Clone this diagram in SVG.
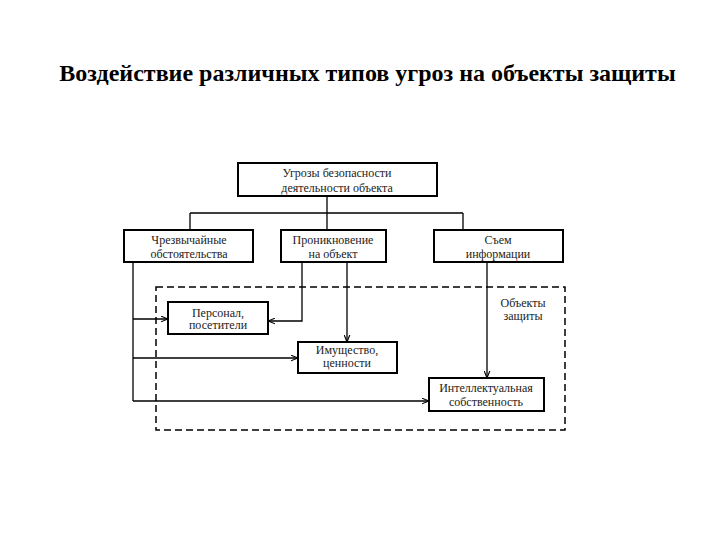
<svg xmlns="http://www.w3.org/2000/svg" width="720" height="540" viewBox="0 0 720 540">
<defs>
<marker id="ah" viewBox="0 0 10 10" refX="10" refY="5" markerWidth="7" markerHeight="7" orient="auto" markerUnits="userSpaceOnUse">
<path d="M0,1 L10,5 L0,9" fill="none" stroke="#000" stroke-width="1.6"/>
</marker>
<style>
.box{fill:#fff;stroke:#000;stroke-width:2}
.t{font-family:'Liberation Serif','DejaVu Serif',serif;font-size:12px;fill:#222;text-anchor:middle}
.title{font-family:'Liberation Serif','DejaVu Serif',serif;font-size:24px;font-weight:bold;fill:#000;text-anchor:middle}
.c{fill:none;stroke:#000;stroke-width:1.3}
.ca{fill:none;stroke:#000;stroke-width:1.3;marker-end:url(#ah)}
</style>
</defs>
<rect width="720" height="540" fill="#fff"/>
<text class="title" x="367.5" y="81">Воздействие различных типов угроз на объекты защиты</text>

<g id="region">
<rect x="156" y="287" width="409" height="143" fill="none" stroke="#000" stroke-width="1.5" stroke-dasharray="7,4"/>
<text class="t" x="523" y="307">Объекты</text>
<text class="t" x="523" y="320">защиты</text>
</g>

<g id="connectors">
<path class="c" d="M327,196 V230 M190,213 H463 M190,213 V230 M463,213 V230"/>
<path class="c" d="M133,262 V401"/>
<path class="ca" d="M133,319 H168"/>
<path class="ca" d="M133,358 H298"/>
<path class="ca" d="M133,401 H429"/>
<path class="ca" d="M302,262 V321 H268"/>
<path class="ca" d="M347,262 V342"/>
<path class="ca" d="M487,262 V378"/>
</g>

<g id="top">
<rect class="box" x="238" y="163" width="199" height="33"/>
<text class="t" x="337" y="177">Угрозы безопасности</text>
<text class="t" x="337" y="191.5">деятельности объекта</text>
</g>
<g id="emerg">
<rect class="box" x="124" y="230" width="129" height="32"/>
<text class="t" x="189" y="244">Чрезвычайные</text>
<text class="t" x="189" y="258">обстоятельства</text>
</g>
<g id="penetr">
<rect class="box" x="281" y="230" width="105" height="32"/>
<text class="t" x="333" y="244">Проникновение</text>
<text class="t" x="333" y="258">на объект</text>
</g>
<g id="info">
<rect class="box" x="434" y="230" width="129" height="32"/>
<text class="t" x="498" y="244">Съем</text>
<text class="t" x="498" y="258">информации</text>
</g>
<g id="personal">
<rect class="box" x="168" y="302" width="100" height="32"/>
<text class="t" x="218" y="316.5">Персонал,</text>
<text class="t" x="218" y="329">посетители</text>
</g>
<g id="property">
<rect class="box" x="298" y="342" width="99" height="31"/>
<text class="t" x="347" y="354">Имущество,</text>
<text class="t" x="347" y="367">ценности</text>
</g>
<g id="intellect">
<rect class="box" x="429" y="378" width="115" height="33"/>
<text class="t" x="486" y="392">Интеллектуальная</text>
<text class="t" x="486" y="406">собственность</text>
</g>
</svg>
